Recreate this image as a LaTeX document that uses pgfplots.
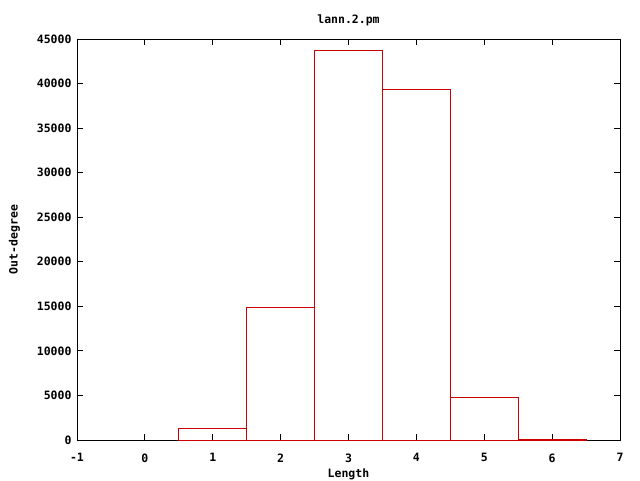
\documentclass[border=0pt]{standalone}
\usepackage{pgfplots}
\pgfplotsset{compat=1.18}
\usepackage{fontspec}
\setmainfont{DejaVu Sans Mono}[BoldFont={DejaVu Sans Mono Bold}]
\definecolor{gred}{RGB}{204,0,0}
\begin{document}
\begin{tikzpicture}[x=1pt,y=1pt]
\useasboundingbox (0,0) rectangle (640,480);
\begin{axis}[
  at={(77pt,40pt)}, anchor=south west,
  scale only axis, width=543pt, height=401pt,
  xmin=-1, xmax=7, ymin=0, ymax=45000,
  xtick={-1,0,...,7}, ytick={0,5000,...,45000},
  scaled y ticks=false,
  /pgf/number format/assume math mode=true,
  yticklabel style={/pgf/number format/fixed, /pgf/number format/1000 sep={}},
  tick align=inside, major tick length=6pt,
  tick style={black, line width=0.8pt},
  axis line style={black, line width=0.8pt},
  ticklabel style={font=\fontsize{11.5}{12}\selectfont\bfseries},
  xticklabel style={yshift=-10pt},
  yticklabel style={xshift=-2pt},
  label style={font=\fontsize{11.5}{12}\selectfont\bfseries},
  xlabel={Length},
  ylabel={Out-degree},
  xlabel style={yshift=0pt},
  ylabel style={yshift=10pt},
  title={lann.2.pm},
  title style={font=\fontsize{11.5}{12}\selectfont\bfseries, yshift=4pt},
]
\addplot[ybar, bar width=1, draw=gred, fill=none, line width=0.8pt] coordinates {
  (1,1350) (2,14900) (3,43700) (4,39350) (5,4820) (6,90)
};
\end{axis}
\end{tikzpicture}
\end{document}
